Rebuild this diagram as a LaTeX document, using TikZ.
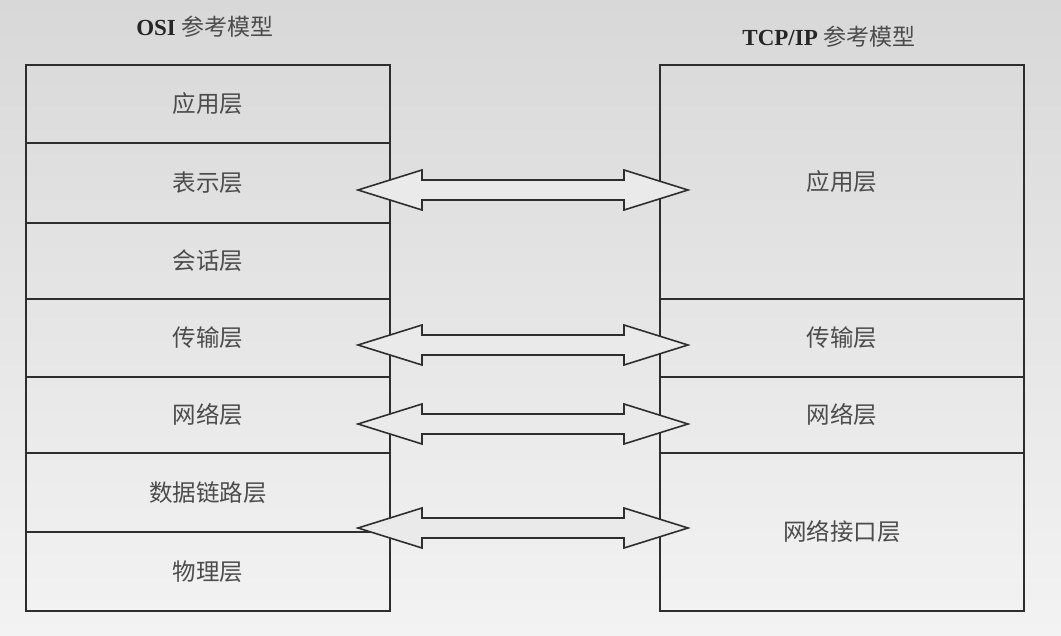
\documentclass[tikz,border=0pt]{standalone}
\usepackage{fontspec}
\setmainfont{Liberation Serif}
\newfontfamily\cjk{Noto Sans CJK SC}
\usetikzlibrary{calc,positioning}
\definecolor{linex}{HTML}{2E2E2E}
\definecolor{textx}{HTML}{4C4C4C}
\definecolor{bgtop}{HTML}{D8D8D8}
\definecolor{bgbot}{HTML}{F3F3F3}
\definecolor{arfill}{HTML}{EAEAEA}
\tikzset{
  layer/.style={draw=linex,line width=1.6pt,minimum width=364pt,inner sep=0pt,outer sep=0pt,
    text=textx,font=\cjk\fontsize{23.5}{27}\selectfont},
  ttl/.style={font=\fontsize{23}{27}\selectfont\bfseries,text=black!85},
  blockar/.style={draw=linex,line width=1.6pt,fill=arfill,line join=miter,
    to path={-- ($(\tikztostart)+(64,-20)$) -- ($(\tikztostart)+(64,-10)$)
      -- ($(\tikztotarget)+(-64,-10)$) -- ($(\tikztotarget)+(-64,-20)$) -- (\tikztotarget)
      -- ($(\tikztotarget)+(-64,20)$) -- ($(\tikztotarget)+(-64,10)$)
      -- ($(\tikztostart)+(64,10)$) -- ($(\tikztostart)+(64,20)$) -- cycle}}
}
\begin{document}
\begin{tikzpicture}[x=1pt,y=-1pt]
\useasboundingbox (0,0) rectangle (1061,636);
\shade[top color=bgtop,bottom color=bgbot] (0,0) rectangle (1061,636);
% titles
\node[ttl] (osi-title) at (205,27) {OSI {\cjk\mdseries\color{black!70}参考模型}};
\node[ttl] (tcp-title) at (829,37) {TCP/IP {\cjk\mdseries\color{black!70}参考模型}};
% OSI layers
\node[layer,minimum height=78pt] (osi-app) at (208,104) {应用层};
\node[layer,minimum height=80pt,below=0pt of osi-app] (osi-pre) {表示层};
\node[layer,minimum height=76pt,below=0pt of osi-pre] (osi-ses) {会话层};
\node[layer,minimum height=78pt,below=0pt of osi-ses] (osi-tra) {传输层};
\node[layer,minimum height=76pt,below=0pt of osi-tra] (osi-net) {网络层};
\node[layer,minimum height=79pt,below=0pt of osi-net] (osi-dat) {数据链路层};
\node[layer,minimum height=79pt,below=0pt of osi-dat] (osi-phy) {物理层};
% TCP/IP layers
\node[layer,minimum height=234pt] (tcp-app) at (842,182) {应用层};
\node[layer,minimum height=78pt,below=0pt of tcp-app] (tcp-tra) {传输层};
\node[layer,minimum height=76pt,below=0pt of tcp-tra] (tcp-net) {网络层};
\node[layer,minimum height=158pt,below=0pt of tcp-net] (tcp-lnk) {网络接口层};
% block arrows
\foreach \y [count=\i] in {190,345,424,528}{
  \coordinate (al\i) at (358,\y);
  \coordinate (ar\i) at (688,\y);
  \draw[blockar] (al\i) to (ar\i);
}
\end{tikzpicture}
\end{document}
